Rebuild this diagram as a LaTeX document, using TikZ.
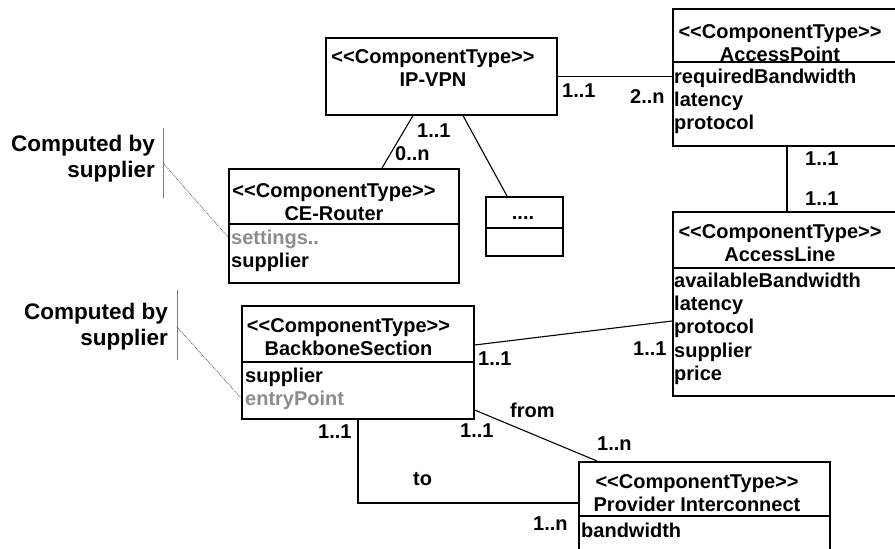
\documentclass[tikz,border=0pt]{standalone}
\usepackage{fontspec}
\setmainfont{Liberation Sans}
\usetikzlibrary{calc}
\definecolor{attrgray}{HTML}{8C8C8C}
\definecolor{notegray}{HTML}{7A7A7A}
\newcommand{\ctype}{%
    \textless\kern0pt\textless\kern0pt ComponentType%
    \kern0pt\textgreater\kern0pt\textgreater}

\begin{document}
\begin{tikzpicture}[
    x=1pt, y=-1pt,
    font=\fontsize{20}{23.3}\selectfont\bfseries,
    classbox/.style={
        draw, line width=1.6pt, inner sep=0pt, anchor=north west,
    },
    divider/.style={line width=1.4pt},
    assoc/.style={line width=1.1pt},
    header/.style={inner sep=0pt, align=center, anchor=north},
    attrs/.style={inner sep=0pt, align=left, anchor=north west},
    mult/.style={inner sep=0pt, anchor=base west},
    note/.style={
        inner sep=0pt, align=right, anchor=north east,
        font=\fontsize{22.5}{25.8}\selectfont\bfseries,
    },
    notebar/.style={notegray, line width=0.8pt},
    notelink/.style={black!65, line width=0.7pt, dash pattern=on 0.9pt off 0.9pt},
]
\clip (0,0) rectangle (895,549);

% -- IP-VPN --
\node[classbox, minimum width=231pt, minimum height=77pt] (ipvpn) at (325,37) {};
\node[header] (ipvpnhead) at (433,49) {\ctype\\IP-VPN};

% -- AccessPoint --
\node[classbox, minimum width=240pt, minimum height=137pt] (accpoint) at (672,8) {};
\draw[divider] ($(accpoint.north west)+(0,54)$) -- ($(accpoint.north east)+(0,54)$);
\node[header] (accpointhead) at (780,24) {\ctype\\AccessPoint};
\node[attrs] (accpointattr) at (674,68.5) {requiredBandwidth\\latency\\protocol};

% -- CE-Router --
\node[classbox, minimum width=230pt, minimum height=114pt] (cerouter) at (228,168) {};
\draw[divider] ($(cerouter.north west)+(0,56)$) -- ($(cerouter.north east)+(0,56)$);
\node[header] (cerouterhead) at (334,183.5) {\ctype\\CE-Router};
\node[attrs] (cerouterattr) at (231,230) {{\color{attrgray}settings..}\\supplier};

% -- further component (....) --
\node[classbox, minimum width=77pt, minimum height=59pt] (more) at (485,196) {};
\draw[divider] ($(more.north west)+(0,32)$) -- ($(more.north east)+(0,32)$);
\node[mult, anchor=base] (morehead) at (523,219) {....};

% -- AccessLine --
\node[classbox, minimum width=240pt, minimum height=184pt] (accline) at (672,211) {};
\draw[divider] ($(accline.north west)+(0,57)$) -- ($(accline.north east)+(0,57)$);
\node[header] (acclinehead) at (780,224.5) {\ctype\\AccessLine};
\node[attrs] (acclineattr) at (674,272.5)
    {availableBandwidth\\latency\\protocol\\supplier\\price};

% -- BackboneSection --
\node[classbox, minimum width=232pt, minimum height=113pt] (backbone) at (241,305) {};
\draw[divider] ($(backbone.north west)+(0,57)$) -- ($(backbone.north east)+(0,57)$);
\node[header] (backbonehead) at (348.5,318.5) {\ctype\\BackboneSection};
\node[attrs] (backboneattr) at (245,367.5) {supplier\\{\color{attrgray}entryPoint}};

% -- Provider Interconnect --
\node[classbox, minimum width=251pt, minimum height=88pt] (provider) at (578,461) {};
\draw[divider] ($(provider.north west)+(0,55)$) -- ($(provider.north east)+(0,55)$);
\node[header] (providerhead) at (697,474.5) {\ctype\\Provider Interconnect};
\node[attrs] (providerattr) at (581,522.5) {bandwidth};

% -- Associations --
\draw[assoc] (ipvpn.east) -- (ipvpn.east -| accpoint.west);
\draw[assoc] ($(ipvpn.south west)+(88,0)$) -- ($(cerouter.north west)+(154,0)$);
\draw[assoc] ($(ipvpn.south west)+(138,0)$) -- ($(more.north west)+(22,0)$);
\draw[assoc] ($(accpoint.south west)+(115,0)$) -- ($(accline.north west)+(115,0)$);
\draw[assoc] ($(backbone.north east)+(0,40)$) -- ($(accline.north west)+(0,110)$);
\draw[assoc] ($(backbone.north east)+(0,105)$) -- ($(provider.north west)+(19,0)$);
\draw[assoc] ($(backbone.south west)+(117,0)$) |- ($(provider.north west)+(0,42)$);

% -- Multiplicities and roles --
\node[mult] (m1) at (562,97) {1..1};
\node[mult] (m2) at (630,103) {2..n};
\node[mult] (m3) at (417,137) {1..1};
\node[mult] (m4) at (395,160) {0..n};
\node[mult] (m5) at (805,165) {1..1};
\node[mult] (m6) at (805,205) {1..1};
\node[mult] (m7) at (478,365) {1..1};
\node[mult] (m8) at (633,355) {1..1};
\node[mult] (rfrom) at (510,417) {from};
\node[mult] (m9) at (460,437) {1..1};
\node[mult] (m10) at (597,450) {1..n};
\node[mult] (m11) at (318,438) {1..1};
\node[mult] (rto) at (413,485) {to};
\node[mult] (m12) at (533,530) {1..n};

% -- Notes --
\node[note] (note1) at (155,135) {Computed by\\supplier};
\draw[notebar] (163,128) -- (163,198);
\coordinate (note1pin) at (163,163);
\draw[notelink] (note1pin) -- ($(cerouter.north west)+(0,69)$);

\node[note] (note2) at (168,303) {Computed by\\supplier};
\draw[notebar] (177,290) -- (177,360);
\coordinate (note2pin) at (177,327);
\draw[notelink] (note2pin) -- ($(backbone.north west)+(0,93)$);

\end{tikzpicture}
\end{document}
